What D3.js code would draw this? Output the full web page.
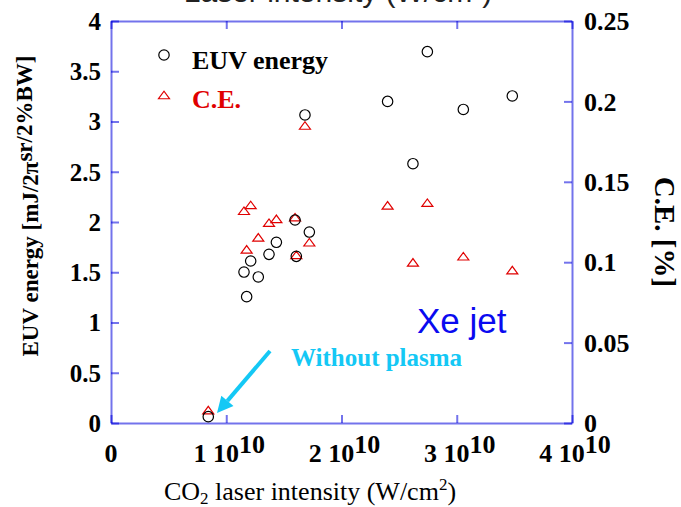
<!DOCTYPE html>
<html>
<head>
<meta charset="utf-8">
<script src="https://cdn.jsdelivr.net/npm/d3@7"></script>
<style>
  html, body { margin: 0; padding: 0; background: #fff; }
  svg { display: block; }
</style>
</head>
<body>
<svg id="chart" width="681" height="507"></svg>
<script>
// ---- data (intensity in units of 1e10 W/cm^2) ----
const intensity = [0.844, 1.154, 1.177, 1.212, 1.278, 1.371, 1.435, 1.597, 1.608, 1.683, 1.721, 2.40, 2.62, 2.745, 3.057, 3.482];
const euvEnergy = [0.063, 1.502, 1.257, 1.612, 1.453, 1.678, 1.798, 2.02, 1.658, 3.065, 1.90, 3.20, 2.58, 3.695, 3.12, 3.254];
const convEff   = [0.008, 0.132, 0.108, 0.1356, 0.1155, 0.1246, 0.127, 0.128, 0.1045, 0.185, 0.1124, 0.1354, 0.0999, 0.137, 0.1037, 0.0951];
const xTicks = [0, 1, 2, 3, 4];
const xTickLabels = ["0", "1 10|10", "2 10|10", "3 10|10", "4 10|10"];
const yLeftTicks = [0, 0.5, 1, 1.5, 2, 2.5, 3, 3.5, 4];
const yLeftLabels = ["0", "0.5", "1", "1.5", "2", "2.5", "3", "3.5", "4"];
const yRightTicks = [0, 0.05, 0.1, 0.15, 0.2, 0.25];
const yRightLabels = ["0", "0.05", "0.1", "0.15", "0.2", "0.25"];

const svg = d3.select("#chart");
const L = 111, R = 572, T = 21, B = 423;
const serif = "'Liberation Serif','Times New Roman',serif";
const sans = "'Liberation Sans',Arial,sans-serif";
const axisColor = "rgba(0,0,220,0.55)";

const x = d3.scaleLinear().domain([0, 4]).range([L, R]);
const yL = d3.scaleLinear().domain([0, 4]).range([B, T]);
const yR = d3.scaleLinear().domain([0, 0.25]).range([B, T]);

// top partial title (clipped at top of page)
svg.append("text").attr("x", 338).attr("y", 2).attr("text-anchor", "middle")
  .attr("font-family", sans).attr("font-size", 30).attr("fill", "#222")
  .text("Laser intensity (W/cm²)");

// axes (frame with inward ticks)
function styleAxis(g) {
  g.selectAll("path.domain").attr("stroke", axisColor).attr("stroke-width", 2);
  g.selectAll(".tick line").attr("stroke", axisColor).attr("stroke-width", 2);
  g.selectAll(".tick text").remove();
}
svg.append("g").attr("transform", `translate(0,${B})`)
  .call(d3.axisBottom(x).tickValues(xTicks).tickSize(-8).tickSizeOuter(0)).call(styleAxis);
svg.append("g").attr("transform", `translate(0,${T})`)
  .call(d3.axisTop(x).tickValues(xTicks).tickSize(-8).tickSizeOuter(0)).call(styleAxis);
svg.append("g").attr("transform", `translate(${L},0)`)
  .call(d3.axisLeft(yL).tickValues(yLeftTicks).tickSize(-8).tickSizeOuter(0)).call(styleAxis);
svg.append("g").attr("transform", `translate(${R},0)`)
  .call(d3.axisRight(yR).tickValues(yRightTicks).tickSize(-8).tickSizeOuter(0)).call(styleAxis);

// tick labels
svg.append("g").selectAll("text").data(yLeftTicks).join("text")
  .attr("x", 101).attr("y", d => yL(d)).attr("dy", "0.35em").attr("text-anchor", "end")
  .attr("font-family", serif).attr("font-weight", "bold").attr("font-size", 25).attr("fill", "#000")
  .text((d, i) => yLeftLabels[i]);
svg.append("g").selectAll("text").data(yRightTicks).join("text")
  .attr("x", 584).attr("y", d => yR(d)).attr("dy", "0.35em").attr("text-anchor", "start")
  .attr("font-family", serif).attr("font-weight", "bold").attr("font-size", 26).attr("fill", "#000")
  .text((d, i) => yRightLabels[i]);
const xl = svg.append("g").selectAll("text").data(xTicks).join("text")
  .attr("x", d => x(d) + (d === 0 ? 0 : 3)).attr("y", 462).attr("text-anchor", "middle")
  .attr("font-family", serif).attr("font-weight", "bold").attr("font-size", 26).attr("fill", "#000");
xl.each(function(d, i) {
  const parts = xTickLabels[i].split("|");
  const t = d3.select(this);
  t.append("tspan").text(parts[0]);
  if (parts[1]) {
    t.append("tspan").attr("dy", -9).text(parts[1]);
  }
});

// axis titles
svg.append("text").attr("x", 310).attr("y", 500).attr("text-anchor", "middle")
  .attr("font-family", serif).attr("font-size", 26).attr("fill", "#000")
  .call(t => {
    t.append("tspan").text("CO");
    t.append("tspan").attr("font-size", 17).attr("dy", 4).text("2");
    t.append("tspan").attr("dy", -4).text(" laser intensity (W/cm");
    t.append("tspan").attr("font-size", 17).attr("dy", -10).text("2");
    t.append("tspan").attr("dy", 10).text(")");
  });

svg.append("text").attr("transform", "translate(38,206) rotate(-90)").attr("text-anchor", "middle")
  .attr("font-family", serif).attr("font-weight", "bold").attr("font-size", 23).attr("fill", "#000")
  .call(t => {
    t.append("tspan").text("EUV energy [mJ/2π");
    t.append("tspan").attr("dy", -6).text("sr/2%BW]");
  });

svg.append("text").attr("transform", "translate(655,232) rotate(90)").attr("text-anchor", "middle")
  .attr("font-family", serif).attr("font-weight", "bold").attr("font-size", 29).attr("fill", "#000")
  .text("C.E. [%]");

// data marks
const tri = "M-5.5,3.75L5.5,3.75L0,-3.75Z";
svg.append("g").selectAll("path").data(intensity).join("path")
  .attr("d", tri).attr("transform", (d, i) => `translate(${x(d)},${yR(convEff[i])})`)
  .attr("fill", "none").attr("stroke", "#e00000").attr("stroke-width", 1.2);
svg.append("g").selectAll("circle").data(intensity).join("circle")
  .attr("cx", d => x(d)).attr("cy", (d, i) => yL(euvEnergy[i])).attr("r", 5.2)
  .attr("fill", "none").attr("stroke", "#000").attr("stroke-width", 1.2);

// legend
svg.append("circle").attr("cx", 164).attr("cy", 55).attr("r", 5.2)
  .attr("fill", "none").attr("stroke", "#000").attr("stroke-width", 1.2);
svg.append("text").attr("x", 192).attr("y", 69)
  .attr("font-family", serif).attr("font-weight", "bold").attr("font-size", 26).attr("fill", "#000")
  .text("EUV energy");
svg.append("path").attr("d", tri).attr("transform", "translate(164,95)")
  .attr("fill", "none").attr("stroke", "#e00000").attr("stroke-width", 1.2);
svg.append("text").attr("x", 192).attr("y", 108)
  .attr("font-family", serif).attr("font-weight", "bold").attr("font-size", 26).attr("fill", "#e00000")
  .text("C.E.");

// annotations
svg.append("text").attr("x", 417).attr("y", 333)
  .attr("font-family", sans).attr("font-size", 35).attr("fill", "#0a0af0")
  .text("Xe jet");
svg.append("text").attr("x", 291).attr("y", 366)
  .attr("font-family", serif).attr("font-weight", "bold").attr("font-size", 25).attr("fill", "#14c8f5")
  .text("Without plasma");

const cyan = "#14c8f5";
const ax0 = 270, ay0 = 351, ax1 = 217, ay1 = 413;
const ang = Math.atan2(ay1 - ay0, ax1 - ax0);
const headLen = 16, headW = 8;
const bx = ax1 - headLen * Math.cos(ang), by = ay1 - headLen * Math.sin(ang);
svg.append("line").attr("x1", ax0).attr("y1", ay0).attr("x2", bx).attr("y2", by)
  .attr("stroke", cyan).attr("stroke-width", 4);
svg.append("path")
  .attr("d", `M${ax1},${ay1}L${bx + headW * Math.sin(ang)},${by - headW * Math.cos(ang)}L${bx - headW * Math.sin(ang)},${by + headW * Math.cos(ang)}Z`)
  .attr("fill", cyan);
</script>
</body>
</html>
